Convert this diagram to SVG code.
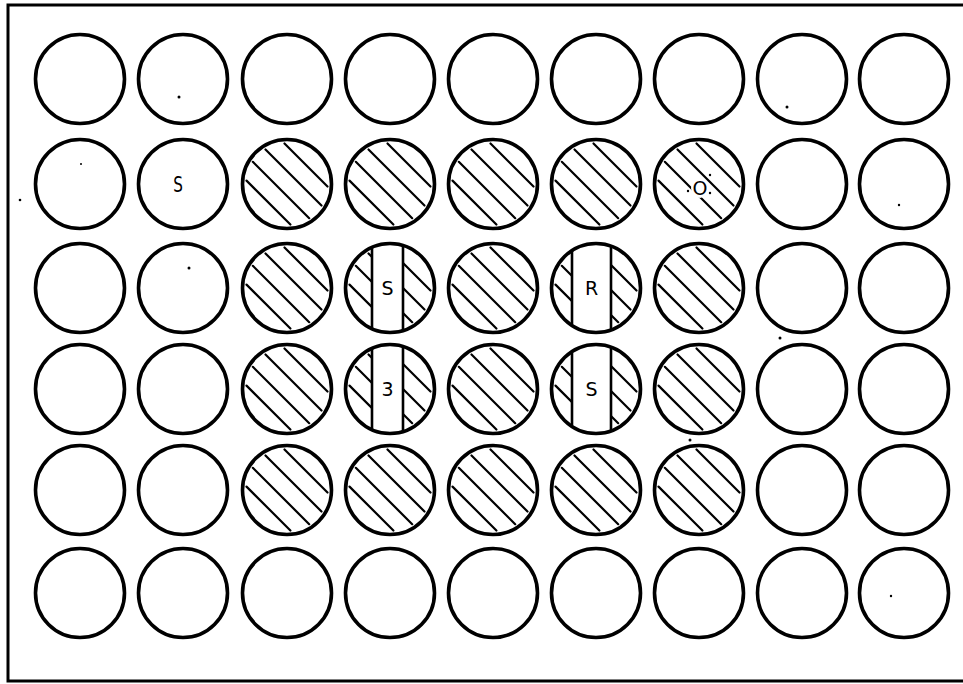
<svg xmlns="http://www.w3.org/2000/svg" xmlns:xlink="http://www.w3.org/1999/xlink" width="963" height="684" viewBox="0 0 963 684">
<style>
.c{fill:none;stroke:#000;stroke-width:3.6}
.h{fill:none;stroke:#000;stroke-width:2.2;stroke-linecap:round}
.b{fill:#fff;stroke:none}
.bl{stroke:#000;stroke-width:2.6}
.t{font-family:"DejaVu Sans","Liberation Sans",sans-serif;font-size:19px;fill:#000;text-anchor:middle}
.d{fill:#000}
</style>
<defs>
<g id="hatch">
<path class="h" d="M-40.5,-3.4 L3.4,40.5 M-34.2,-22.2 L22.2,34.2 M-21.5,-34.5 L34.5,21.5 M-2.5,-40.5 L40.5,2.5"/>
</g>
<circle id="ring" class="c" r="44.5"/>
</defs>
<rect width="963" height="684" fill="#fff"/>
<path d="M970,5 H8 V681 H970" fill="none" stroke="#000" stroke-width="3"/>
<g id="connectors"/>

<!-- Row 1 -->
<g id="r1c1"><use xlink:href="#ring" x="80" y="79"/></g>
<g id="r1c2"><use xlink:href="#ring" x="183" y="79"/></g>
<g id="r1c3"><use xlink:href="#ring" x="287" y="79"/></g>
<g id="r1c4"><use xlink:href="#ring" x="390" y="79"/></g>
<g id="r1c5"><use xlink:href="#ring" x="493" y="79"/></g>
<g id="r1c6"><use xlink:href="#ring" x="596" y="79"/></g>
<g id="r1c7"><use xlink:href="#ring" x="699" y="79"/></g>
<g id="r1c8"><use xlink:href="#ring" x="802" y="79"/></g>
<g id="r1c9"><use xlink:href="#ring" x="904" y="79"/></g>

<!-- Row 2 -->
<g id="r2c1"><use xlink:href="#ring" x="80" y="184"/></g>
<g id="r2c2"><use xlink:href="#ring" x="183" y="184"/><text class="t" x="178" y="191" transform="translate(178 184) scale(0.8 1.15) translate(-178 -184)">S</text></g>
<g id="r2c3"><use xlink:href="#hatch" x="287" y="184"/><use xlink:href="#ring" x="287" y="184"/></g>
<g id="r2c4"><use xlink:href="#hatch" x="390" y="184"/><use xlink:href="#ring" x="390" y="184"/></g>
<g id="r2c5"><use xlink:href="#hatch" x="493" y="184"/><use xlink:href="#ring" x="493" y="184"/></g>
<g id="r2c6"><use xlink:href="#hatch" x="596" y="184"/><use xlink:href="#ring" x="596" y="184"/></g>
<g id="r2c7"><use xlink:href="#hatch" x="699" y="184"/><use xlink:href="#ring" x="699" y="184"/><ellipse cx="700" cy="188" rx="9" ry="10" fill="#fff"/><text class="t" x="700" y="195">O</text><circle class="d" cx="688" cy="191" r="1.2"/><circle class="d" cx="710" cy="193" r="1.2"/><circle class="d" cx="710" cy="175" r="1.2"/></g>
<g id="r2c8"><use xlink:href="#ring" x="802" y="184"/></g>
<g id="r2c9"><use xlink:href="#ring" x="904" y="184"/></g>

<!-- Row 3 -->
<g id="r3c1"><use xlink:href="#ring" x="80" y="288"/></g>
<g id="r3c2"><use xlink:href="#ring" x="183" y="288"/></g>
<g id="r3c3"><use xlink:href="#hatch" x="287" y="288"/><use xlink:href="#ring" x="287" y="288"/></g>
<g id="r3c4"><use xlink:href="#hatch" x="390" y="288"/><rect class="b" x="372" y="244" width="31" height="88"/><path class="bl" d="M372,247.4 V328.6 M403,245.5 V330.5"/><use xlink:href="#ring" x="390" y="288"/><text class="t" x="387.5" y="295">S</text></g>
<g id="r3c5"><use xlink:href="#hatch" x="493" y="288"/><use xlink:href="#ring" x="493" y="288"/></g>
<g id="r3c6"><use xlink:href="#hatch" x="596" y="288"/><rect class="b" x="572" y="244" width="39" height="88"/><path class="bl" d="M572,250.7 V325.3 M611,246.2 V329.8"/><use xlink:href="#ring" x="596" y="288"/><text class="t" x="591.5" y="295">R</text></g>
<g id="r3c7"><use xlink:href="#hatch" x="699" y="288"/><use xlink:href="#ring" x="699" y="288"/></g>
<g id="r3c8"><use xlink:href="#ring" x="802" y="288"/></g>
<g id="r3c9"><use xlink:href="#ring" x="904" y="288"/></g>

<!-- Row 4 -->
<g id="r4c1"><use xlink:href="#ring" x="80" y="389"/></g>
<g id="r4c2"><use xlink:href="#ring" x="183" y="389"/></g>
<g id="r4c3"><use xlink:href="#hatch" x="287" y="389"/><use xlink:href="#ring" x="287" y="389"/></g>
<g id="r4c4"><use xlink:href="#hatch" x="390" y="389"/><rect class="b" x="372" y="345" width="31" height="88"/><path class="bl" d="M372,348.4 V429.6 M403,346.5 V431.5"/><use xlink:href="#ring" x="390" y="389"/><text class="t" x="387.5" y="396">3</text></g>
<g id="r4c5"><use xlink:href="#hatch" x="493" y="389"/><use xlink:href="#ring" x="493" y="389"/></g>
<g id="r4c6"><use xlink:href="#hatch" x="596" y="389"/><rect class="b" x="572" y="345" width="39" height="88"/><path class="bl" d="M572,351.7 V426.3 M611,347.2 V430.8"/><use xlink:href="#ring" x="596" y="389"/><text class="t" x="591.5" y="396">S</text></g>
<g id="r4c7"><use xlink:href="#hatch" x="699" y="389"/><use xlink:href="#ring" x="699" y="389"/></g>
<g id="r4c8"><use xlink:href="#ring" x="802" y="389"/></g>
<g id="r4c9"><use xlink:href="#ring" x="904" y="389"/></g>

<!-- Row 5 -->
<g id="r5c1"><use xlink:href="#ring" x="80" y="490"/></g>
<g id="r5c2"><use xlink:href="#ring" x="183" y="490"/></g>
<g id="r5c3"><use xlink:href="#hatch" x="287" y="490"/><use xlink:href="#ring" x="287" y="490"/></g>
<g id="r5c4"><use xlink:href="#hatch" x="390" y="490"/><use xlink:href="#ring" x="390" y="490"/></g>
<g id="r5c5"><use xlink:href="#hatch" x="493" y="490"/><use xlink:href="#ring" x="493" y="490"/></g>
<g id="r5c6"><use xlink:href="#hatch" x="596" y="490"/><use xlink:href="#ring" x="596" y="490"/></g>
<g id="r5c7"><use xlink:href="#hatch" x="699" y="490"/><use xlink:href="#ring" x="699" y="490"/></g>
<g id="r5c8"><use xlink:href="#ring" x="802" y="490"/></g>
<g id="r5c9"><use xlink:href="#ring" x="904" y="490"/></g>

<!-- Row 6 -->
<g id="r6c1"><use xlink:href="#ring" x="80" y="593"/></g>
<g id="r6c2"><use xlink:href="#ring" x="183" y="593"/></g>
<g id="r6c3"><use xlink:href="#ring" x="287" y="593"/></g>
<g id="r6c4"><use xlink:href="#ring" x="390" y="593"/></g>
<g id="r6c5"><use xlink:href="#ring" x="493" y="593"/></g>
<g id="r6c6"><use xlink:href="#ring" x="596" y="593"/></g>
<g id="r6c7"><use xlink:href="#ring" x="699" y="593"/></g>
<g id="r6c8"><use xlink:href="#ring" x="802" y="593"/></g>
<g id="r6c9"><use xlink:href="#ring" x="904" y="593"/></g>

<g id="specks">
<circle class="d" cx="179" cy="97" r="1.5"/>
<circle class="d" cx="81" cy="164" r="1"/>
<circle class="d" cx="20" cy="200" r="1.3"/>
<circle class="d" cx="787" cy="107" r="1.5"/>
<circle class="d" cx="899" cy="205" r="1.2"/>
<circle class="d" cx="189" cy="268" r="1.5"/>
<circle class="d" cx="780" cy="338" r="1.5"/>
<circle class="d" cx="690" cy="440" r="1.5"/>
<circle class="d" cx="891" cy="596" r="1.2"/>
</g>
</svg>
